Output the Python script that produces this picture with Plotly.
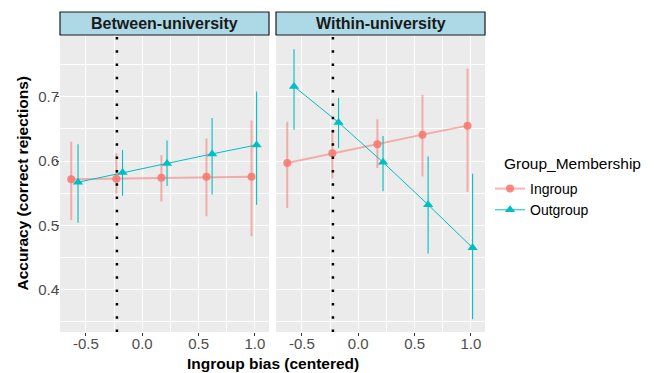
import plotly.graph_objects as go

# ---------------- data ----------------
panels = ["Between-university", "Within-university"]
group_names = ["Ingroup", "Outgroup"]
legend_title = "Group_Membership"

x_ingroup = [-0.63, -0.23, 0.17, 0.57, 0.97]
x_outgroup = [-0.57, -0.175, 0.22, 0.62, 1.015]

between_in_y = [0.5715, 0.5725, 0.574, 0.5755, 0.5755]
between_in_hi = [0.630, 0.612, 0.609, 0.635, 0.663]
between_in_lo = [0.508, 0.549, 0.537, 0.514, 0.483]

between_out_y = [0.567, 0.582, 0.596, 0.611, 0.625]
between_out_hi = [0.626, 0.617, 0.632, 0.667, 0.708]
between_out_lo = [0.504, 0.546, 0.561, 0.548, 0.532]

within_in_y = [0.597, 0.612, 0.626, 0.641, 0.655]
within_in_hi = [0.661, 0.649, 0.665, 0.703, 0.744]
within_in_lo = [0.527, 0.573, 0.589, 0.576, 0.552]

within_out_y = [0.716, 0.660, 0.598, 0.532, 0.465]
within_out_hi = [0.774, 0.698, 0.639, 0.607, 0.580]
within_out_lo = [0.649, 0.620, 0.553, 0.456, 0.354]

mean_bias = -0.225  # dotted reference line

x_ticks = [-0.5, 0.0, 0.5, 1.0]
x_ticklabels = ["-0.5", "0.0", "0.5", "1.0"]
y_ticks = [0.4, 0.5, 0.6, 0.7]
y_ticklabels = ["0.4", "0.5", "0.6", "0.7"]

# ---------------- style ----------------
FONT = "Liberation Sans, Arial, sans-serif"
IN_FAINT = "rgba(248,118,109,0.55)"
OUT_COL = "#00BFC4"

OFF = 8  # page body margin
W, H = 654 - OFF, 373 - OFF
L, T = 60 - OFF, 12 - OFF
R, B = W - (485 - OFF), H - (332 - OFF)
plot_w = W - L - R
plot_h = H - T - B
dom_top = 1 - (35 - 12) / plot_h
left_dom = [0, (269 - 60) / plot_w]
right_dom = [(276 - 60) / plot_w, 1]


def px_x(px):
    return (px - 60) / plot_w


def px_y(py):
    return 1 - (py - 12) / plot_h


def err(y, hi, lo):
    return [h - v for h, v in zip(hi, y)], [v - l for v, l in zip(y, lo)]


fig = go.Figure()

series = [
    ("x", "y", between_in_y, between_in_hi, between_in_lo, between_out_y, between_out_hi, between_out_lo, True),
    ("x2", "y2", within_in_y, within_in_hi, within_in_lo, within_out_y, within_out_hi, within_out_lo, False),
]

for xa, ya, iy, ihi, ilo, oy, ohi, olo, show in series:
    ep, em = err(iy, ihi, ilo)
    fig.add_trace(go.Scatter(
        x=x_ingroup, y=iy, xaxis=xa, yaxis=ya, mode="lines+markers",
        name=group_names[0], legendgroup="in", showlegend=show,
        line=dict(color=IN_FAINT, width=2),
        marker=dict(symbol="circle", size=8, color="rgba(248,118,109,0.85)"),
        error_y=dict(type="data", array=ep, arrayminus=em, width=0,
                     thickness=2, color=IN_FAINT),
    ))
    ep, em = err(oy, ohi, olo)
    fig.add_trace(go.Scatter(
        x=x_outgroup, y=oy, xaxis=xa, yaxis=ya, mode="lines+markers",
        name=group_names[1], legendgroup="out", showlegend=show,
        line=dict(color=OUT_COL, width=1),
        marker=dict(symbol="triangle-up", size=9, color=OUT_COL),
        error_y=dict(type="data", array=ep, arrayminus=em, width=0,
                     thickness=1.1, color=OUT_COL),
    ))

xaxis_common = dict(
    range=[-0.73, 1.125], tickvals=x_ticks, ticktext=x_ticklabels,
    showgrid=True, gridcolor="white", gridwidth=1.1,
    minor=dict(showgrid=True, gridcolor="white", gridwidth=0.5, dtick=0.25, tick0=0),
    zeroline=False, ticks="outside", ticklen=3, tickcolor="#333333",
    tickfont=dict(family=FONT, size=15, color="#4d4d4d"), showline=False,
    ticklabelstandoff=-5,
)
yaxis_common = dict(
    range=[0.334, 0.796], tickvals=y_ticks, ticktext=y_ticklabels,
    showgrid=True, gridcolor="white", gridwidth=1.1,
    minor=dict(showgrid=True, gridcolor="white", gridwidth=0.5, dtick=0.05, tick0=0),
    zeroline=False, domain=[0, dom_top],
)

fig.update_layout(
    width=W, height=H,
    margin=dict(l=L, r=R, t=T, b=B, autoexpand=False),
    paper_bgcolor="white", plot_bgcolor="#ebebeb",
    font=dict(family=FONT, color="black"),
    xaxis=dict(domain=left_dom, anchor="y", **xaxis_common),
    xaxis2=dict(domain=right_dom, anchor="y2", **xaxis_common),
    yaxis=dict(anchor="x", ticks="outside", ticklen=3, tickcolor="#333333",
               tickfont=dict(family=FONT, size=15, color="#4d4d4d"),
               ticklabelstandoff=-6, **yaxis_common),
    yaxis2=dict(anchor="x2", matches="y", showticklabels=False, ticks="", **yaxis_common),
    legend=dict(
        x=px_x(490), xanchor="left", y=px_y(173), yanchor="top",
        font=dict(family=FONT, size=14, color="black"),
        bgcolor="rgba(0,0,0,0)", tracegroupgap=0, itemwidth=30,
    ),
    showlegend=True,
)

shapes = []
annotations = []
for i, (dom, title) in enumerate(zip([left_dom, right_dom], panels)):
    shapes.append(dict(type="rect", xref="paper", yref="paper",
                       x0=dom[0], x1=dom[1], y0=dom_top, y1=1,
                       fillcolor="#add8e6", line=dict(color="#1a1a1a", width=1.2)))
    annotations.append(dict(text="<b>%s</b>" % title, xref="paper", yref="paper",
                            x=(dom[0] + dom[1]) / 2, y=(dom_top + 1) / 2,
                            showarrow=False, xanchor="center", yanchor="middle",
                            font=dict(family=FONT, size=16, color="#1a1a1a")))
    xr = "x" if i == 0 else "x2"
    yr = "y domain" if i == 0 else "y2 domain"
    shapes.append(dict(type="line", xref=xr, yref=yr, x0=mean_bias, x1=mean_bias,
                       y0=0, y1=1, line=dict(color="black", width=2.5, dash="2.5px,10.8px")))

annotations.append(dict(text=legend_title, xref="paper", yref="paper",
                        x=px_x(502), y=px_y(163), showarrow=False,
                        xanchor="left", yanchor="middle",
                        font=dict(family=FONT, size=15.5, color="black")))
annotations.append(dict(text="<b>Ingroup bias (centered)</b>", xref="paper", yref="paper",
                        x=0.5, y=px_y(363), showarrow=False,
                        xanchor="center", yanchor="middle",
                        font=dict(family=FONT, size=15.5, color="black")))
annotations.append(dict(text="<b>Accuracy (correct rejections)</b>", xref="paper", yref="paper",
                        x=px_x(22), y=dom_top / 2, showarrow=False, textangle=-90,
                        xanchor="center", yanchor="middle",
                        font=dict(family=FONT, size=15.5, color="black")))

fig.update_layout(shapes=shapes, annotations=annotations)
fig.write_html("out.html")
